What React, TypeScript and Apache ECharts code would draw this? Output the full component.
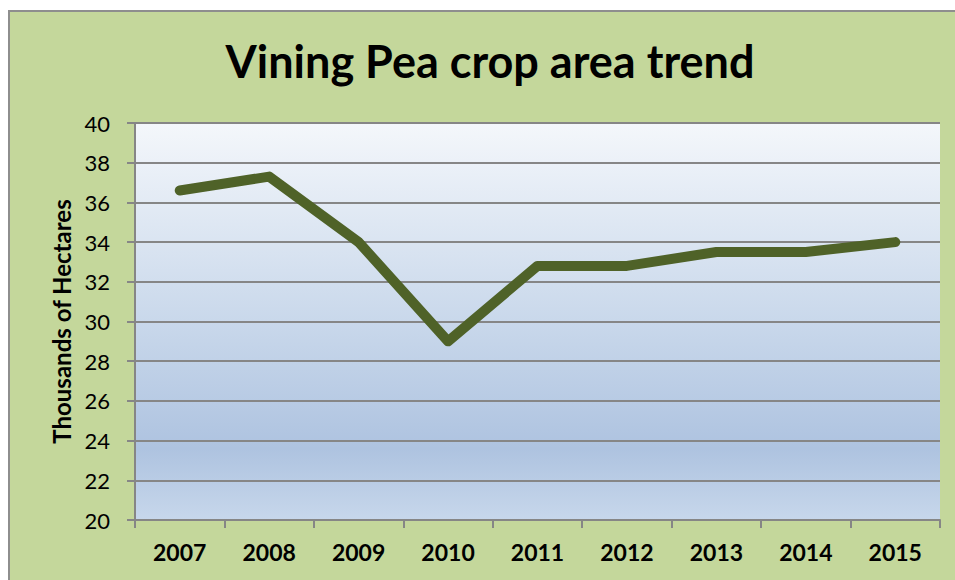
import React, { useEffect, useRef } from "react";
import * as echarts from "echarts";

const categories = ["2007", "2008", "2009", "2010", "2011", "2012", "2013", "2014", "2015"];
const areaValues = [36.6, 37.3, 34.0, 29.0, 32.8, 32.8, 33.5, 33.5, 34.0];
const titleText = "Vining Pea crop area trend";
const yAxisName = "Thousands of Hectares";

export default function App() {
  const ref = useRef<HTMLDivElement>(null);
  useEffect(() => {
    document.body.style.margin = "0";
    const chart = echarts.init(ref.current!, null, { renderer: "svg" });
    chart.setOption({
      animation: false,
      backgroundColor: "#ffffff",
      textStyle: { fontFamily: "Lato" },
      graphic: [
        {
          type: "rect",
          z: -10,
          silent: true,
          shape: { x: 9, y: 11, width: 960, height: 600 },
          style: { fill: "#C4D79B", stroke: "#8E8E8E", lineWidth: 2 },
        },
      ],
      title: {
        text: titleText,
        left: 485,
        top: 33,
        textAlign: "center",
        textStyle: { fontFamily: "Lato", fontWeight: "bold", fontSize: 45, color: "#000" },
      },
      grid: {
        left: 135,
        top: 123,
        right: 15,
        bottom: 60,
        show: true,
        borderWidth: 0,
        backgroundColor: new echarts.graphic.LinearGradient(0, 0, 0, 1, [
          { offset: 0, color: "#F4F7FB" },
          { offset: 0.5, color: "#C9D8EB" },
          { offset: 0.82, color: "#AEC3E0" },
          { offset: 1, color: "#C7D7EB" },
        ]),
      },
      xAxis: {
        type: "category",
        data: categories,
        boundaryGap: true,
        axisLine: { lineStyle: { color: "#868686", width: 2 } },
        axisTick: { show: true, length: 8, lineStyle: { color: "#868686", width: 2 } },
        axisLabel: { color: "#000", fontFamily: "Lato", fontWeight: "bold", fontSize: 23, margin: 20 },
      },
      yAxis: {
        type: "value",
        min: 20,
        max: 40,
        interval: 2,
        name: yAxisName,
        nameLocation: "middle",
        nameGap: 62,
        nameRotate: 90,
        nameTextStyle: { color: "#000", fontFamily: "Lato", fontWeight: "bold", fontSize: 24 },
        axisLine: { show: true, lineStyle: { color: "#868686", width: 2 } },
        axisTick: { show: true, length: 8, lineStyle: { color: "#868686", width: 2 } },
        axisLabel: { color: "#000", fontFamily: "Lato", fontSize: 22, margin: 25 },
        splitLine: { show: true, lineStyle: { color: "#868686", width: 2 } },
      },
      series: [
        {
          type: "line",
          data: areaValues,
          symbol: "none",
          lineStyle: { color: "#4F6228", width: 10, join: "round", cap: "round" },
        },
      ],
    });
    return () => chart.dispose();
  }, []);
  return <div ref={ref} style={{ width: 955, height: 580 }} />;
}
